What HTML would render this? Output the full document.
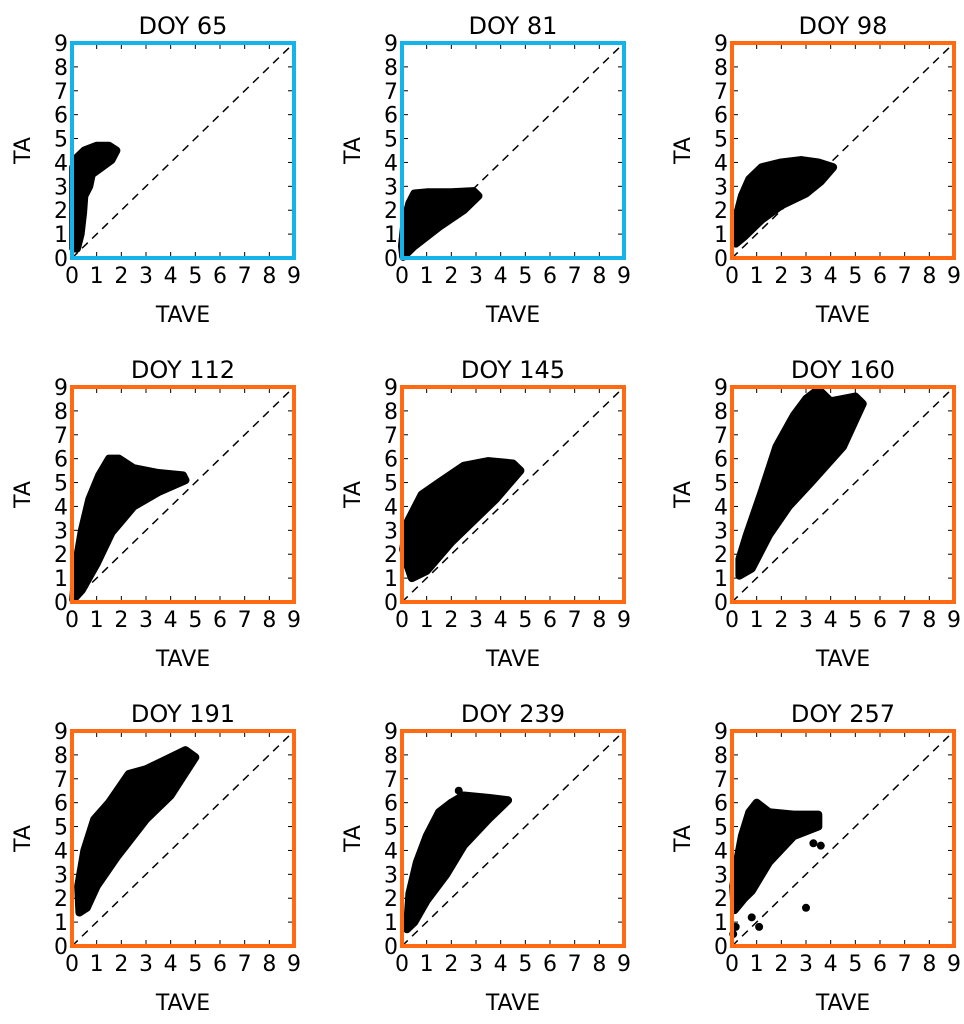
<!DOCTYPE html>
<html><head><meta charset="utf-8"><style>
html,body{margin:0;padding:0;background:#fff;}
svg{display:block;font-family:"DejaVu Sans","Liberation Sans",sans-serif;}
</style></head><body>
<svg id="fig" width="964" height="1024" viewBox="0 0 964 1024"></svg>
<script>
const titles = ["DOY 65","DOY 81","DOY 98","DOY 112","DOY 145","DOY 160","DOY 191","DOY 239","DOY 257"];
const frameColors = ["#14b4ea","#14b4ea","#ff6a12","#ff6a12","#ff6a12","#ff6a12","#ff6a12","#ff6a12","#ff6a12"];
const ticks = [0,1,2,3,4,5,6,7,8,9];
const cloudX = [
 [0.05,0.2,0.35,0.45,0.5,0.7,0.8,1.2,1.6,1.8,1.5,1.0,0.5,0.2,0.05],
 [0.05,0.5,1.5,2.5,3.1,2.9,2.0,1.0,0.5,0.3,0.1,0.0],
 [0.15,0.5,1.2,2.0,3.0,3.6,4.1,3.5,2.8,2.0,1.2,0.7,0.4,0.2],
 [0.05,0.4,1.0,1.6,2.5,3.5,4.6,4.5,3.5,2.5,1.9,1.5,1.1,0.7,0.4,0.15],
 [0.4,1.0,2.0,3.0,3.8,4.8,4.5,3.5,2.5,1.5,0.8,0.2,0.05,0.2],
 [0.3,0.8,1.5,2.3,3.2,4.5,5.3,5.0,4.0,3.5,3.0,2.5,1.8,1.2,0.6,0.3],
 [0.3,0.6,1.0,1.8,3.0,4.0,5.0,4.6,3.8,3.0,2.3,1.5,0.9,0.5,0.25],
 [0.2,0.5,1.0,1.8,2.5,3.5,4.3,3.5,2.5,2.0,1.5,1.0,0.6,0.3],
 [0.1,0.5,0.8,1.5,2.5,3.5,3.5,2.5,1.5,1.0,0.7,0.4,0.2,0.05]
];
const cloudY = [
 [0.4,0.4,1.0,1.9,2.6,3.0,3.5,3.8,4.1,4.5,4.7,4.7,4.5,4.2,3.8],
 [0.05,0.5,1.3,2.0,2.6,2.8,2.75,2.75,2.7,2.3,1.5,0.5],
 [0.6,0.9,1.6,2.2,2.7,3.2,3.8,4.0,4.1,4.0,3.8,3.3,2.6,1.8],
 [0.1,0.5,1.6,2.9,4.0,4.6,5.1,5.3,5.4,5.6,6.0,6.0,5.3,4.3,3.0,1.5],
 [1.0,1.3,2.5,3.5,4.3,5.5,5.8,5.9,5.7,5.0,4.5,3.3,2.2,1.6],
 [1.1,1.4,2.8,4.0,5.0,6.5,8.3,8.6,8.4,8.9,8.5,7.8,6.5,4.6,2.8,1.8],
 [1.4,1.6,2.5,3.7,5.3,6.3,7.9,8.2,7.8,7.4,7.2,6.0,5.3,4.0,2.5],
 [0.7,1.0,1.9,3.0,4.2,5.3,6.1,6.2,6.3,6.0,5.6,4.6,3.5,2.2],
 [1.5,2.0,2.3,3.5,4.6,5.0,5.5,5.5,5.6,6.0,5.6,4.6,3.5,2.5]
];
const outX = [[],[],[3.8,3.6],[],[],[3.5],[],[2.3],[0.05,0.15,0.8,1.1,3.0,3.3,3.6]];
const outY = [[],[],[3.7,3.9],[],[],[8.8],[],[6.5],[0.5,0.8,1.2,0.8,1.6,4.3,4.2]];

const NS="http://www.w3.org/2000/svg";
const svg=document.getElementById('fig');
function mk(t,a,p){const e=document.createElementNS(NS,t);for(const k in a)e.setAttribute(k,a[k]);(p||svg).appendChild(e);return e;}
const W=222,H=215,X0=72,Y0=43,DX=330,DY=344;
for(let i=0;i<9;i++){
  const c=i%3,r=Math.floor(i/3);
  const L=X0+c*DX,T=Y0+r*DY;
  const sx=v=>L+v/9*W, sy=v=>T+H-v/9*H;
  const g=mk('g',{});
  
  
  const ti=mk('text',{x:L+W/2,y:T-9,'text-anchor':'middle','font-size':24},g);ti.textContent=titles[i];
  
  const pts=cloudX[i].map((x,k)=>sx(x)+','+sy(cloudY[i][k])).join(' ');
  const pg=mk('polygon',{points:pts,fill:'#000',stroke:'#000','stroke-width':8,'stroke-linejoin':'round'},g);
  
  outX[i].forEach((x,k)=>{const d=mk('circle',{cx:sx(x),cy:sy(outY[i][k]),r:4,fill:'#000'},g);
    });
  const ln=mk('line',{x1:sx(0),y1:sy(0),x2:sx(9),y2:sy(9),stroke:'#000','stroke-width':1.5,'stroke-dasharray':'8,6'},g);
  
  ticks.forEach(t=>{
    if(t>0&&t<9){
      mk('line',{x1:sx(t),y1:T+H,x2:sx(t),y2:T+H-6,stroke:'#000','stroke-width':1},g);
      mk('line',{x1:sx(t),y1:T,x2:sx(t),y2:T+6,stroke:'#000','stroke-width':1},g);
      mk('line',{x1:L,y1:sy(t),x2:L+6,y2:sy(t),stroke:'#000','stroke-width':1},g);
      mk('line',{x1:L+W,y1:sy(t),x2:L+W-6,y2:sy(t),stroke:'#000','stroke-width':1},g);
    }
    const xt=mk('text',{x:sx(t),y:T+H+25,'text-anchor':'middle','font-size':22},g);xt.textContent=t;
    
    const yt=mk('text',{x:L-4,y:sy(t)+8,'text-anchor':'end','font-size':22},g);yt.textContent=t;
    
  });
  const fr=mk('rect',{x:L,y:T,width:W,height:H,fill:'none',stroke:frameColors[i],'stroke-width':4},g);
  
  const xl=mk('text',{x:L+W/2,y:T+H+64,'text-anchor':'middle','font-size':22},g);xl.textContent='TAVE';
  
  const yx=L-42,yy=T+H/2;
  const yl=mk('text',{x:yx,y:yy,'text-anchor':'middle','font-size':22,transform:'rotate(-90 '+yx+' '+yy+')'},g);yl.textContent='TA';
  
}
</script>
</body></html>
